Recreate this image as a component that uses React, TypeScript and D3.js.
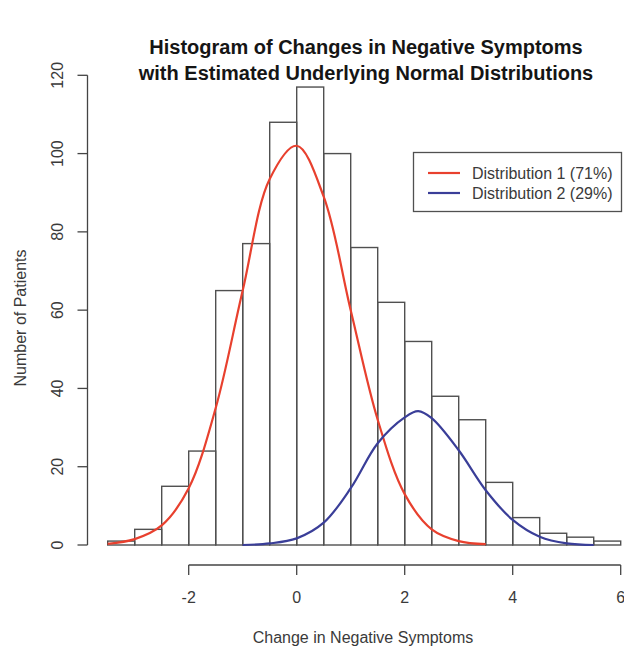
import * as d3 from "d3";

// histogram bins (break points) and counts
const breaks = [-3.5, -3, -2.5, -2, -1.5, -1, -0.5, 0, 0.5, 1, 1.5, 2, 2.5, 3, 3.5, 4, 4.5, 5, 5.5, 6];
const counts = [1, 4, 15, 24, 65, 77, 108, 117, 100, 76, 62, 52, 38, 32, 16, 7, 3, 2, 1];

// fitted curves
const dist1X = [-3.5, -3, -2.5, -2, -1.5, -1, -0.5, 0, 0.5, 1, 1.5, 2, 2.5, 3, 3.5];
const dist1Y = [0.3, 1.5, 5, 14.5, 35, 65, 93.5, 102, 89, 60, 32, 13, 4, 1, 0.2];
const dist2X = [-1, -0.5, 0, 0.5, 1, 1.5, 2, 2.25, 2.5, 3, 3.5, 4, 4.5, 5, 5.5];
const dist2Y = [0, 0.4, 1.7, 5.7, 14.5, 26, 32.6, 34.2, 32.4, 24.2, 14, 6.4, 2.1, 0.4, 0];

const xTicks = [-2, 0, 2, 4, 6];
const yTicks = [0, 20, 40, 60, 80, 100, 120];
const legendLabels = ["Distribution 1 (71%)", "Distribution 2 (29%)"];
const legendColors = ["#e8402e", "#3a3e98"];
const titleLines = [
  "Histogram of Changes in Negative Symptoms",
  "with Estimated Underlying Normal Distributions",
];

const W = 624;
const H = 648;
const font = "'Liberation Sans', Arial, Helvetica, sans-serif";

export default function App() {
  const x = d3.scaleLinear().domain([-3.5, 6]).range([107.7, 620.7]);
  const y = d3.scaleLinear().domain([0, 120]).range([545, 75.3]);

  const axisY = 565;
  const axisX = 87.5;
  const tick = 10;

  const path = (xs: number[], ys: number[]) =>
    d3
      .line<number>()
      .x((_, i) => x(xs[i]))
      .y((_, i) => y(ys[i]))
      .curve(d3.curveCatmullRom.alpha(0.5))(xs) || "";

  return (
    <svg
      width={W}
      height={H}
      style={{ position: "absolute", left: 0, top: 0, background: "#fff" }}
      fontFamily={font}
    >
      {/* title */}
      {titleLines.map((t, i) => (
        <text
          key={t}
          x={366}
          y={47 + i * 26}
          textAnchor="middle"
          dominantBaseline="central"
          fontSize={20}
          fontWeight="bold"
          fill="#151515"
        >
          {t}
        </text>
      ))}

      {/* bars */}
      {counts.map((c, i) => (
        <rect
          key={i}
          x={x(breaks[i])}
          y={y(c)}
          width={x(breaks[i + 1]) - x(breaks[i])}
          height={y(0) - y(c)}
          fill="none"
          stroke="#505050"
          strokeWidth={1.4}
        />
      ))}

      {/* curves */}
      <path d={path(dist1X, dist1Y)} fill="none" stroke={legendColors[0]} strokeWidth={2.2} />
      <path d={path(dist2X, dist2Y)} fill="none" stroke={legendColors[1]} strokeWidth={2.2} />

      {/* x axis */}
      <g stroke="#444" strokeWidth={1.3}>
        <line x1={x(xTicks[0])} x2={x(xTicks[xTicks.length - 1])} y1={axisY} y2={axisY} />
        {xTicks.map((t) => (
          <line key={t} x1={x(t)} x2={x(t)} y1={axisY} y2={axisY + tick} />
        ))}
      </g>
      {xTicks.map((t) => (
        <text
          key={t}
          x={x(t)}
          y={597}
          textAnchor="middle"
          dominantBaseline="central"
          fontSize={16}
          fill="#3a3a3a"
        >
          {t}
        </text>
      ))}
      <text x={363} y={637} textAnchor="middle" dominantBaseline="central" fontSize={16} fill="#3a3a3a">
        Change in Negative Symptoms
      </text>

      {/* y axis */}
      <g stroke="#444" strokeWidth={1.3}>
        <line x1={axisX} x2={axisX} y1={y(yTicks[0])} y2={y(yTicks[yTicks.length - 1])} />
        {yTicks.map((t) => (
          <line key={t} x1={axisX - tick} x2={axisX} y1={y(t)} y2={y(t)} />
        ))}
      </g>
      {yTicks.map((t) => (
        <text
          key={t}
          transform={`translate(57,${y(t)}) rotate(-90)`}
          textAnchor="middle"
          dominantBaseline="central"
          fontSize={16}
          fill="#3a3a3a"
        >
          {t}
        </text>
      ))}
      <text
        transform="translate(20,318) rotate(-90)"
        textAnchor="middle"
        dominantBaseline="central"
        fontSize={16}
        fill="#3a3a3a"
      >
        Number of Patients
      </text>

      {/* legend */}
      <rect x={413.5} y={152.5} width={208} height={59} fill="#fff" stroke="#505050" strokeWidth={1.3} />
      {legendLabels.map((l, i) => (
        <g key={l}>
          <line
            x1={428}
            x2={460}
            y1={173 + i * 20}
            y2={173 + i * 20}
            stroke={legendColors[i]}
            strokeWidth={2.2}
          />
          <text x={472} y={173 + i * 20} dominantBaseline="central" fontSize={16} fill="#3a3a3a">
            {l}
          </text>
        </g>
      ))}
    </svg>
  );
}
